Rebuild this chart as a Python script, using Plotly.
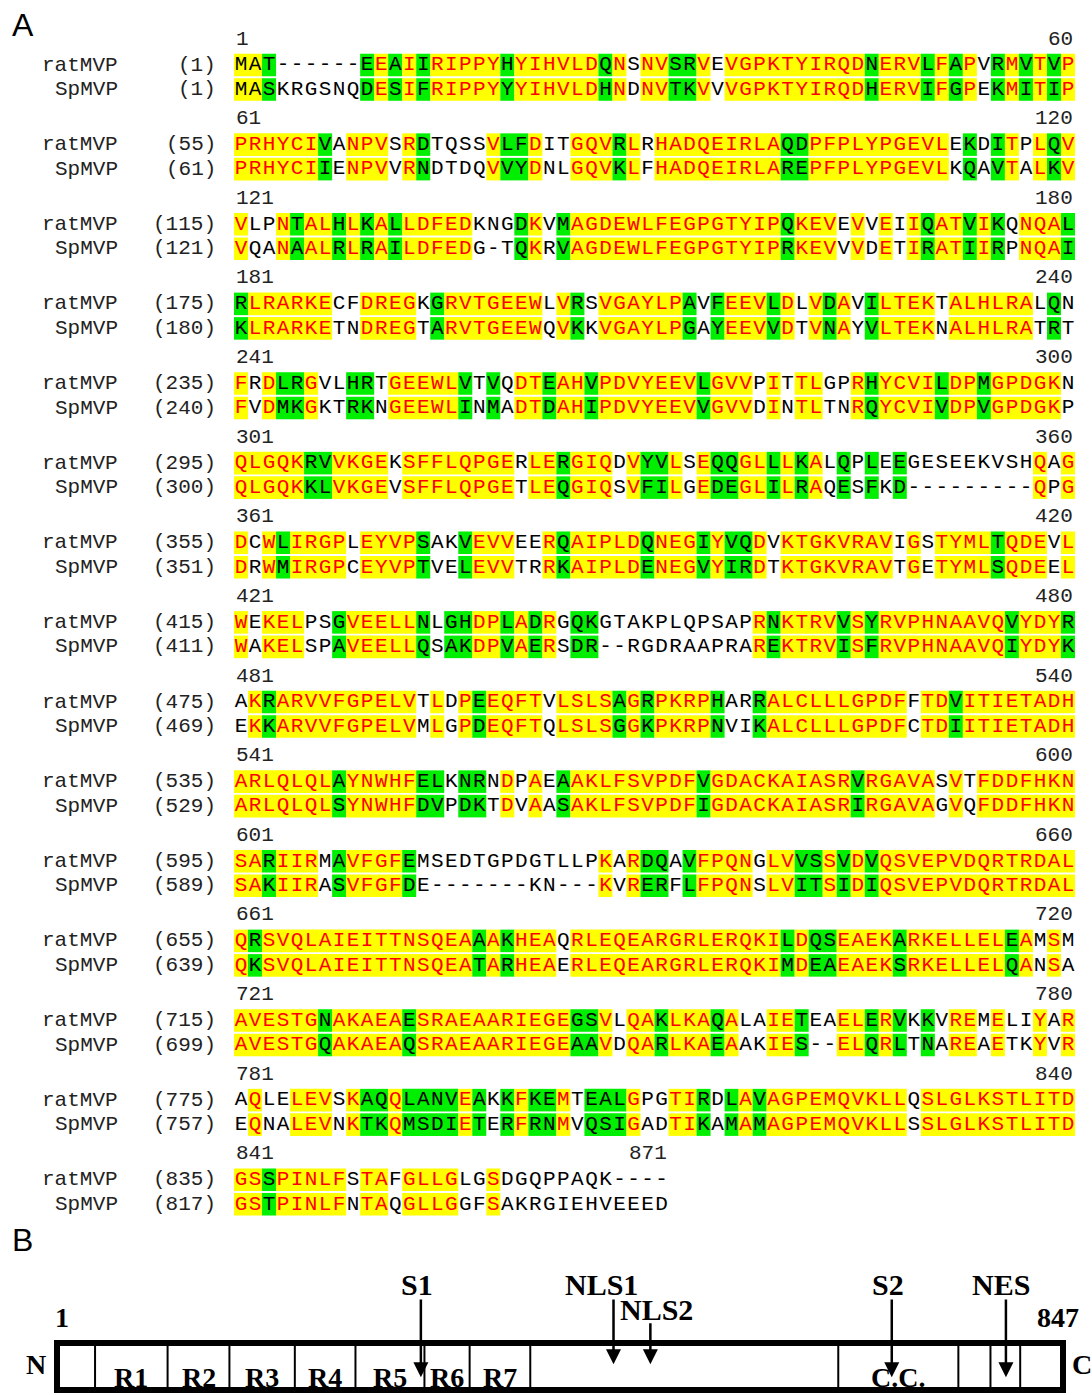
import plotly.graph_objects as go

# ---------------- DATA ----------------
rat_seq = [
    "MAT------EEAIIRIPPYHYIHVLDQNSNVSRVEVGPKTYIRQDNERVLFAPVRMVTVP",
    "PRHYCIVANPVSRDTQSSVLFDITGQVRLRHADQEIRLAQDPFPLYPGEVLEKDITPLQV",
    "VLPNTALHLKALLDFEDKNGDKVMAGDEWLFEGPGTYIPQKEVEVVEIIQATVIKQNQAL",
    "RLRARKECFDREGKGRVTGEEWLVRSVGAYLPAVFEEVLDLVDAVILTEKTALHLRALQN",
    "FRDLRGVLHRTGEEWLVTVQDTEAHVPDVYEEVLGVVPITTLGPRHYCVILDPMGPDGKN",
    "QLGQKRVVKGEKSFFLQPGERLERGIQDVYVLSEQQGLLLKALQPLEEGESEEKVSHQAG",
    "DCWLIRGPLEYVPSAKVEVVEERQAIPLDQNEGIYVQDVKTGKVRAVIGSTYMLTQDEVL",
    "WEKELPSGVEELLNLGHDPLADRGQKGTAKPLQPSAPRNKTRVVSYRVPHNAAVQVYDYR",
    "AKRARVVFGPELVTLDPEEQFTVLSLSAGRPKRPHARRALCLLLGPDFFTDVITIETADH",
    "ARLQLQLAYNWHFELKNRNDPAEAAKLFSVPDFVGDACKAIASRVRGAVASVTFDDFHKN",
    "SARIIRMAVFGFEMSEDTGPDGTLLPKARDQAVFPQNGLVVSSVDVQSVEPVDQRTRDAL",
    "QRSVQLAIEITTNSQEAAAKHEAQRLEQEARGRLERQKILDQSEAEKARKELLELEAMSM",
    "AVESTGNAKAEAESRAEAARIEGEGSVLQAKLKAQALAIETEAELERVKKVREMELIYAR",
    "AQLELEVSKAQQLANVEAKKFKEMTEALGPGTIRDLAVAGPEMQVKLLQSLGLKSTLITD",
    "GSSPINLFSTAFGLLGLGSDGQPPAQK----",
]
sp_seq = [
    "MASKRGSNQDESIFRIPPYYYIHVLDHNDNVTKVVVGPKTYIRQDHERVIFGPEKMITIP",
    "PRHYCIIENPVVRNDTDQVVYDNLGQVKLFHADQEIRLAREPFPLYPGEVLKQAVTALKV",
    "VQANAALRLRAILDFEDG-TQKRVAGDEWLFEGPGTYIPRKEVVVDETIRATIIRPNQAI",
    "KLRARKETNDREGTARVTGEEWQVKKVGAYLPGAYEEVVDTVNAYVLTEKNALHLRATRT",
    "FVDMKGKTRKNGEEWLINMADTDAHIPDVYEEVVGVVDINTLTNRQYCVIVDPVGPDGKP",
    "QLGQKKLVKGEVSFFLQPGETLEQGIQSVFILGEDEGLILRAQESFKD---------QPG",
    "DRWMIRGPCEYVPTVELEVVTRRKAIPLDENEGVYIRDTKTGKVRAVTGETYMLSQDEEL",
    "WAKELSPAVEELLQSAKDPVAERSDR--RGDRAAPRAREKTRVISFRVPHNAAVQIYDYK",
    "EKKARVVFGPELVMLGPDEQFTQLSLSGGKPKRPNVIKALCLLLGPDFCTDIITIETADH",
    "ARLQLQLSYNWHFDVPDKTDVAASAKLFSVPDFIGDACKAIASRIRGAVAGVQFDDFHKN",
    "SAKIIRASVFGFDE-------KN---KVRERFLFPQNSLVITSIDIQSVEPVDQRTRDAL",
    "QKSVQLAIEITTNSQEATARHEAERLEQEARGRLERQKIMDEAEAEKSRKELLELQANSA",
    "AVESTGQAKAEAQSRAEAARIEGEAAVDQARLKAEAAKIES--ELQRLTNAREAETKYVR",
    "EQNALEVNKTKQMSDIETERFRNMVQSIGADTIKAMAMAGPEMQVKLLSSLGLKSTLITD",
    "GSTPINLFNTAQGLLGGFSAKRGIEHVEEED",
]
# Y = identical, G = similar, B = identical (black text), . = none
masks = [
    "BBG......GYGYGYYYYYGYYYYYYGY.YYGGY.YYYYYYYYYYGYYYGYGY.GYGYGY",
    "YYYYYYG.YYY.YG....YGGY..YYYGY.YYYYYYYYYGGYYYYYYYYYY.G.GY.YGY",
    "Y..YGYYGYGYGYYYYY...GY.GYYYYYYYYYYYYYYYGYYY.Y.Y.YGYYGYG.YYYG",
    "GYYYYYY..YYYY.GYYYYYYY.YG.YYYYYYG.GYYYGY.YGY.GYYYY.YYYYYY.G.",
    "Y.YGGY..GG.YYYYYG.G.YYGYYGYYYYYYYGYYY.Y.YY..YGYYYYGYYGYYYYY.",
    "YYYYYGGYYYY.YYYYYYYY.YYGYYY.YGGY.YGGYYGYGY.G.G.G.........Y.Y",
    "Y.YGYYYY.YYYYG..GYYY..YGYYYYYGYYYGYGGY.YYYYYYYY.Y.YYYYGYYY.Y",
    "Y.YYY..GYYYYYG.GGYYGYGY.GG...........YGYYYYGYGYYYYYYYYYGYYYG",
    ".YGYYYYYYYYYY.Y.YGYYYY.YYYYGYGYYYYG..GYYYYYYYYYY.YYGYYYYYYYY",
    "YYYYYYYGYYYYYGG.GG.Y.Y.GYYYYYYYYYGYYYYYYYYYYGYYYYY.Y.YYYYYYY",
    "YYGYYY.GYYYYG.............Y.YGG.GYYYY.YYGGYGYGYYYYYYYYYYYYYY",
    "YGYYYYYYYYYYYYYYYGYGYYY.YYYYYYYYYYYYYYYGYGGYYYYGYYYYYYYGY.Y.",
    "YYYYYYGYYYYYGYYYYYYYYYYYGGY.YYGYYYGY..YYG..YYGYG.G.YY.Y..Y.Y",
    ".Y..YYY.YGGYGGGGYG.GYGGY.GGGY..YYG.GYGYYYYYYYYYY.YYYYYYYYYYY",
    "YYGYYYYY.YY.YYYY..Y............",
]
rat_start = [1, 55, 115, 175, 235, 295, 355, 415, 475, 535, 595, 655, 715, 775, 835]
sp_start = [1, 61, 121, 180, 240, 300, 351, 411, 469, 529, 589, 639, 699, 757, 817]
block_left = ["1", "61", "121", "181", "241", "301", "361", "421", "481", "541",
              "601", "661", "721", "781", "841"]
block_right = ["60", "120", "180", "240", "300", "360", "420", "480", "540", "600",
               "660", "720", "780", "840", "871"]
seq_names = ["ratMVP", "SpMVP"]

# Panel B data
protein_len = 847
domain_bounds = [33, 94, 146, 201, 252, 310, 348, 399, 658, 759, 786, 811]
domain_labels = ["R1", "R2", "R3", "R4", "R5", "R6", "R7", "C.C."]
domain_label_seg = [(33, 94), (94, 146), (146, 201), (201, 252), (252, 310),
                    (310, 348), (348, 399), (658, 759)]
site_names = ["S1", "NLS1", "NLS2", "S2", "NES"]
site_pos = [307, 469, 500, 703, 799]

# ---------------- LAYOUT CONSTANTS ----------------
W, H = 1092, 1395
PITCH = 3.25      # block pitch in row units
HDR = 1.06        # header offset above first row
ROW_PX = 24.5
Y0_PX = 65.0
A_BOTTOM_PX = 1225.0
YELLOW = "#FFFF00"
GREEN = "#00EE00"
RED = "#FF0000"
MONO = "Liberation Mono, Courier New, monospace"
SERIF = "Liberation Serif, Times New Roman, serif"

ya_top = -Y0_PX / ROW_PX
ya_bot = (A_BOTTOM_PX - Y0_PX) / ROW_PX

fig = go.Figure()
shapes = []
annotations = []

xs, ys, txt, cols = [], [], [], []
for b, (rs, ss, mk) in enumerate(zip(rat_seq, sp_seq, masks)):
    for r, seq in enumerate((rs, ss)):
        yc = b * PITCH + r
        run_start, run_col = None, None
        for i in range(len(seq) + 1):
            c = None
            if i < len(seq):
                m = mk[i] if i < len(mk) else "."
                c = YELLOW if m in "YB" else (GREEN if m == "G" else None)
            if c != run_col:
                if run_col is not None:
                    shapes.append(dict(type="rect", xref="x", yref="y",
                                       x0=run_start + 0.5, x1=i + 0.5,
                                       y0=yc - 0.46, y1=yc + 0.46,
                                       fillcolor=run_col, line=dict(width=0),
                                       layer="below"))
                run_start, run_col = i, c
        for i, ch in enumerate(seq):
            m = mk[i] if i < len(mk) else "."
            xs.append(i + 1)
            ys.append(yc)
            txt.append(ch)
            cols.append(RED if m == "Y" else "#000000")
        annotations.append(dict(xref="paper", yref="y", x=120 / W, y=yc,
                                text=seq_names[r], showarrow=False, xanchor="right",
                                yanchor="middle", font=dict(family=MONO, size=21, color="#222")))
        st = rat_start[b] if r == 0 else sp_start[b]
        annotations.append(dict(xref="paper", yref="y", x=218 / W, y=yc,
                                text=f"({st})", showarrow=False, xanchor="right",
                                yanchor="middle", font=dict(family=MONO, size=21, color="#222")))
    hy = b * PITCH - HDR
    annotations.append(dict(xref="x", yref="y", x=0.5, y=hy, text=block_left[b],
                            showarrow=False, xanchor="left", yanchor="middle",
                            font=dict(family=MONO, size=21, color="#222")))
    annotations.append(dict(xref="x", yref="y", x=len(rs) + 0.5, y=hy, text=block_right[b],
                            showarrow=False, xanchor="right", yanchor="middle",
                            font=dict(family=MONO, size=21, color="#222")))

fig.add_trace(go.Scatter(x=xs, y=ys, text=txt, mode="text", textposition="middle center",
                         textfont=dict(family=MONO, size=21, color=cols),
                         hoverinfo="skip", showlegend=False, cliponaxis=False))

# ---------------- PANEL B ----------------
BOX_L_PX, BOX_R_PX = 57.0, 1063.0
scale = (protein_len - 1) / (BOX_R_PX - BOX_L_PX)
xb_min = 1 - BOX_L_PX * scale
xb_max = 1 + (W - BOX_L_PX) * scale
BOT_PX, UNIT_PX = 1390.0, 47.0
yb_min = (BOT_PX - H) / UNIT_PX
yb_max = (BOT_PX - A_BOTTOM_PX) / UNIT_PX

for d in domain_bounds:
    shapes.append(dict(type="line", xref="x2", yref="y2", x0=d, x1=d, y0=0, y1=1,
                       line=dict(color="black", width=2)))
shapes.append(dict(type="rect", xref="x2", yref="y2", x0=1, x1=protein_len, y0=0, y1=1,
                   line=dict(color="black", width=6), fillcolor="rgba(0,0,0,0)"))

bfont = dict(family=SERIF, size=28, color="black")
sfont = dict(family=SERIF, size=30, color="black")
for lab, (a, bnd) in zip(domain_labels, domain_label_seg):
    annotations.append(dict(xref="x2", yref="y2", x=(a + bnd) / 2, y=0.27, text=f"<b>{lab}</b>",
                            showarrow=False, xanchor="center", yanchor="middle", font=bfont))
annotations.append(dict(xref="x2", yref="y2", x=-17, y=0.55, text="<b>N</b>",
                        showarrow=False, xanchor="center", yanchor="middle", font=bfont))
annotations.append(dict(xref="x2", yref="y2", x=863, y=0.55, text="<b>C</b>",
                        showarrow=False, xanchor="center", yanchor="middle", font=bfont))
annotations.append(dict(xref="x2", yref="y2", x=5, y=1.55, text="<b>1</b>",
                        showarrow=False, xanchor="center", yanchor="middle", font=bfont))
annotations.append(dict(xref="x2", yref="y2", x=843, y=1.55, text=f"<b>{protein_len}</b>",
                        showarrow=False, xanchor="center", yanchor="middle", font=bfont))

head_y = [0.27, 0.55, 0.55, 0.27, 0.27]
tail_y = [1.96, 1.96, 1.45, 1.96, 1.96]
lab_y = [2.25, 2.25, 1.72, 2.25, 2.25]
lab_dx = [-3, -10, 5, -3, -4]
for name, p, hy, ty, ly, dx in zip(site_names, site_pos, head_y, tail_y, lab_y, lab_dx):
    annotations.append(dict(xref="x2", yref="y2", x=p, y=hy, ax=p, ay=ty,
                            axref="x2", ayref="y2", text="", showarrow=True,
                            arrowhead=2, arrowsize=1.2, arrowwidth=2.5, arrowcolor="black",
                            standoff=0, startstandoff=0))
    annotations.append(dict(xref="x2", yref="y2", x=p + dx, y=ly, text=f"<b>{name}</b>",
                            showarrow=False, xanchor="center", yanchor="middle", font=sfont))

annotations.append(dict(xref="paper", yref="paper", x=10 / W, y=1 - 25 / H, text="A",
                        showarrow=False, xanchor="left", yanchor="middle",
                        font=dict(family="Liberation Sans, Arial", size=32, color="black")))
annotations.append(dict(xref="paper", yref="paper", x=10 / W, y=1 - 1240 / H, text="B",
                        showarrow=False, xanchor="left", yanchor="middle",
                        font=dict(family="Liberation Sans, Arial", size=32, color="black")))

axis_off = dict(visible=False, showgrid=False, zeroline=False, fixedrange=True)
fig.update_layout(
    width=W, height=H, margin=dict(l=0, r=0, t=0, b=0),
    paper_bgcolor="white", plot_bgcolor="white",
    xaxis=dict(domain=[234 / W, 1075 / W], range=[0.5, 60.5], **axis_off),
    yaxis=dict(domain=[1 - A_BOTTOM_PX / H, 1], range=[ya_bot, ya_top], **axis_off),
    xaxis2=dict(domain=[0, 1], range=[xb_min, xb_max], anchor="y2", **axis_off),
    yaxis2=dict(domain=[0, 1 - A_BOTTOM_PX / H], range=[yb_min, yb_max], anchor="x2", **axis_off),
    shapes=shapes, annotations=annotations, showlegend=False,
)
fig.write_html("out.html", config={"displayModeBar": False},
               post_script="document.body.style.margin='0';document.body.style.overflow='hidden';")
